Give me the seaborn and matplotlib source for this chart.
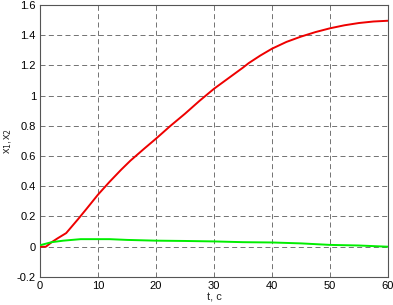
import matplotlib
matplotlib.use("Agg")
import matplotlib.pyplot as plt
import seaborn as sns
import pandas as pd
from matplotlib.ticker import FuncFormatter

t_red = [0, 1, 2, 3, 4.5, 6.5, 8, 10, 12, 14, 15.6, 18, 20, 22.5, 25,
         27.5, 30, 32.5, 35, 36, 38, 40, 42.5, 45, 47.5, 50, 52.5, 55, 57.5, 60]
x1 = [0.0, 0.0, 0.03, 0.055, 0.09, 0.18, 0.25, 0.345, 0.43, 0.51, 0.57,
      0.65, 0.715, 0.80, 0.88, 0.965, 1.045, 1.115, 1.185, 1.215, 1.265, 1.31,
      1.355, 1.39, 1.42, 1.445, 1.465, 1.48, 1.49, 1.495]
t_green = [0, 2, 4, 7, 10, 12, 15, 20, 25, 30, 35, 40, 45, 50, 55, 60]
x2 = [0.01, 0.03, 0.04, 0.05, 0.05, 0.05, 0.045, 0.04, 0.038, 0.035, 0.03,
      0.028, 0.022, 0.012, 0.008, 0.0]
x_ticks = [0, 10, 20, 30, 40, 50, 60]
y_ticks = [-0.2, 0, 0.2, 0.4, 0.6, 0.8, 1, 1.2, 1.4, 1.6]

sns.set_style("white")
plt.rcParams['font.family'] = ['Liberation Sans', 'DejaVu Sans']

fig = plt.figure(figsize=(3.93, 3.05), dpi=100)
ax = fig.add_axes([0.102, 0.092, 0.885, 0.892])

df1 = pd.DataFrame({"t": t_red, "v": x1})
df2 = pd.DataFrame({"t": t_green, "v": x2})
sns.lineplot(data=df1, x="t", y="v", ax=ax, color="#ee0000", linewidth=1.4, zorder=3)
sns.lineplot(data=df2, x="t", y="v", ax=ax, color="#00ee00", linewidth=1.4, zorder=3)

ax.set_xlim(0, 60)
ax.set_ylim(-0.2, 1.6)
ax.set_xticks(x_ticks)
ax.set_yticks(y_ticks)
ax.yaxis.set_major_formatter(FuncFormatter(lambda v, p: f"{v:g}"))
ax.grid(True, color="#333333", linestyle=(0, (6, 4)), linewidth=0.6, alpha=0.8)
ax.tick_params(direction="in", length=0, labelsize=8, colors="#000000", pad=3)
for s in ax.spines.values():
    s.set_color("#555555")
    s.set_linewidth(0.8)
ax.set_xlabel("t, c", fontsize=8, labelpad=1)
ax.set_ylabel("x$_1$,x$_2$", fontsize=8, labelpad=2)

fig.savefig("out.png", dpi=100)
